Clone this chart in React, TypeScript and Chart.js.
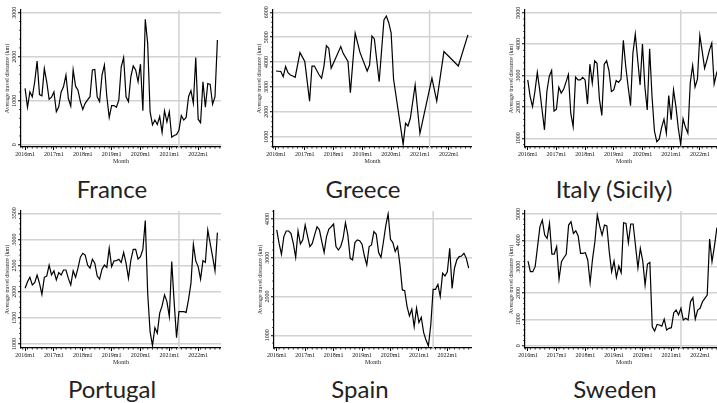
import React, { useEffect, useRef } from "react";
import { Chart, registerables } from "chart.js";

Chart.register(...registerables);

// ---------- data ----------
const monthTickValues = [0, 12, 24, 36, 48, 60, 72];
const monthTickLabels = ["2016m1", "2017m1", "2018m1", "2019m1", "2020m1", "2021m1", "2022m1"];

const franceValues = [
  1280, 850, 1200, 1090, 1430, 1900, 1140, 1110, 1730, 1430,
  1030, 1080, 1200, 750, 860, 1200, 1320, 1580, 1050, 880,
  1700, 1330, 1240, 980, 800, 940, 1020, 1090, 1700, 1710,
  1090, 980, 1580, 1810, 1090, 620, 890, 890, 850, 1020,
  1770, 1980, 1090, 980, 1550, 1790, 1700, 1430, 1830, 770,
  2850, 2300, 750, 450, 560, 460, 640, 280, 770, 520,
  750, 170, 210, 230, 330, 660, 560, 620, 1090, 1230,
  940, 1980, 580, 500, 1430, 850, 1390, 1370, 920, 1090,
  2380,
];

const greeceMonths = [
  0, 2, 3, 4, 5, 6, 7, 8, 10, 12, 14, 15, 16, 18, 19, 20, 21, 22, 23,
  27, 28, 30, 31, 33, 35, 38, 39, 40, 41, 43, 45, 46, 47, 48, 49,
  53, 54, 55, 56, 58, 60, 65, 67, 70, 76, 80,
];
const greeceValues = [
  3640, 3620, 3410, 3820, 3570, 3480, 3440, 3390, 4380, 4020, 2430, 3840, 3840, 3480, 3350, 3840, 4660, 4550, 3750,
  4620, 4350, 4020, 2770, 5160, 4390, 3640, 3880, 5050, 4930, 3210, 5690, 5850, 5580, 5160, 3320,
  690, 1540, 1430, 1740, 3080, 1130, 3350, 2430, 4420, 3840, 5090,
];

const italyValues = [
  2860, 2330, 2010, 2490, 3100, 2540, 1900, 1270, 2490, 2970,
  3160, 1870, 1930, 2630, 2440, 2560, 2790, 3030, 1800, 1370,
  2950, 2860, 2860, 2940, 2860, 2090, 3360, 2760, 3470, 3390,
  2240, 1730, 3360, 3470, 3150, 2490, 2540, 2840, 2780, 2880,
  4120, 3290, 2650, 2040, 3710, 4320, 3500, 2700, 4000, 2650,
  1900, 3850, 2330, 1240, 890, 970, 1340, 1610, 1160, 2360,
  1590, 2540, 2010, 1320, 810, 1620, 1350, 1160, 2760, 3320,
  2630, 2880, 4280, 3770, 3230, 3500, 3800, 4030, 2730, 3070,
  3300,
];

const portugalValues = [
  2065, 2190, 2275, 2130, 2175, 2320, 2160, 1950, 2275, 2300,
  2510, 2320, 2400, 2225, 2365, 2320, 2415, 2415, 2255, 2130,
  2400, 2275, 2450, 2660, 2735, 2700, 2510, 2450, 2620, 2545,
  2300, 2240, 2430, 2510, 2465, 2830, 2480, 2590, 2595, 2620,
  2560, 2750, 2545, 2255, 2605, 2810, 2810, 2625, 2670, 2810,
  3360, 1970, 1235, 970, 1310, 1205, 1590, 1730, 1940, 1810,
  1525, 2575, 1810, 1120, 1620, 1620, 1620, 1605, 1855, 2160,
  2905, 2590, 2480, 2240, 2595, 2560, 3180, 2925, 2670, 2400,
  3130,
];

const spainValues = [
  3720, 3370, 3090, 3545, 3690, 3690, 3630, 3370, 3010, 3690,
  3355, 3460, 3845, 3560, 3290, 3370, 3590, 3800, 3720, 3420,
  3140, 3545, 3740, 3800, 3870, 3290, 3200, 3290, 3500, 3905,
  3590, 2985, 2945, 3390, 3460, 3440, 3350, 3045, 2815, 3290,
  3330, 3675, 3605, 3135, 3010, 3400, 3820, 4130, 3475, 3390,
  3160, 3290, 2815, 2170, 2150, 1740, 1500, 1670, 1220, 1700,
  1330, 1465, 1070, 880, 725, 1265, 2185, 2185, 2315, 2000,
  2600, 2530, 2640, 3245, 2210, 2730, 2945, 3030, 3045, 3115,
  2985, 2730,
];

const swedenValues = [
  3215, 2810, 2810, 3000, 3760, 4520, 4770, 4200, 4075, 4645,
  3480, 3480, 3760, 2530, 3190, 3340, 3470, 4580, 4710, 4265,
  4365, 4165, 3505, 3505, 3530, 3255, 2390, 3280, 3950, 4960,
  4545, 4200, 4580, 4545, 3570, 2810, 3215, 2595, 3025, 2770,
  4670, 4645, 3910, 4620, 4620, 3785, 2960, 3695, 3230, 2305,
  3100, 3165, 720, 555, 810, 785, 745, 1010, 595, 660,
  685, 1255, 1355, 1165, 1420, 975, 1040, 975, 1670, 1825,
  1010, 1355, 1420, 1670, 1800, 1925, 4050, 3190, 3760, 4455,
  4600,
];

const franceYTicks = [0, 1000, 2000, 3000];
const greeceYTicks = [1000, 2000, 3000, 4000, 5000, 6000];
const italyYTicks = [1000, 2000, 3000, 4000, 5000];
const portugalYTicks = [1000, 1500, 2000, 2500, 3000, 3500];
const spainYTicks = [1000, 2000, 3000, 4000];
const swedenYTicks = [0, 1000, 2000, 3000, 4000, 5000];

// vertical reference line month per country (France, Greece, Italy, Portugal, Spain, Sweden)
const referenceMonths = [64, 64, 64, 64, 66, 64];
const yAxisTitle = "Average travel distance (km)";
const xAxisTitle = "Month";

const toPoints = (values: number[], months?: number[]) =>
  values.map((v, i) => ({ x: months ? months[i] : i, y: v }));

// ---------- layout ----------
type PanelCfg = {
  name: string;
  points: { x: number; y: number }[];
  yTicks: number[];
  refMonth: number;
  yMin: number;
  yMax: number;
  xMin: number;
  xMax: number;
  left: number;
  top: number;
  width: number;
  titleCenter: number;
  titleTop: number;
};

const CANVAS_H = 165;
const Y_AXIS_W = 17;
const X_AXIS_H = 18;

const panels: PanelCfg[] = [
  { name: "France", points: toPoints(franceValues), yTicks: franceYTicks, refMonth: referenceMonths[0], yMin: -52, yMax: 3061, xMin: -1.7, xMax: 81.5, left: 4, top: 0, width: 217, titleCenter: 112, titleTop: 176.5 },
  { name: "Greece", points: toPoints(greeceValues, greeceMonths), yTicks: greeceYTicks, refMonth: referenceMonths[1], yMin: 586, yMax: 6092, xMin: -1.25, xMax: 81.7, left: 256, top: 0, width: 216, titleCenter: 363, titleTop: 176.5 },
  { name: "Italy (Sicily)", points: toPoints(italyValues), yTicks: italyYTicks, refMonth: referenceMonths[2], yMin: 723, yMax: 5086, xMin: -1.15, xMax: 81.7, left: 508, top: 0, width: 215, titleCenter: 614, titleTop: 176.5 },
  { name: "Portugal", points: toPoints(portugalValues), yTicks: portugalYTicks, refMonth: referenceMonths[3], yMin: 923, yMax: 3544, xMin: -1.7, xMax: 81.5, left: 4, top: 201, width: 217, titleCenter: 112, titleTop: 376.5 },
  { name: "Spain", points: toPoints(spainValues), yTicks: spainYTicks, refMonth: referenceMonths[4], yMin: 672, yMax: 4206, xMin: -1.15, xMax: 82.4, left: 257, top: 201, width: 215, titleCenter: 360, titleTop: 376.5 },
  { name: "Sweden", points: toPoints(swedenValues), yTicks: swedenYTicks, refMonth: referenceMonths[5], yMin: -87, yMax: 5114, xMin: -1.25, xMax: 81.6, left: 508, top: 201, width: 215, titleCenter: 615, titleTop: 376.5 },
];

const smallFont = { family: "'Liberation Serif', 'DejaVu Serif', serif", size: 6 };

const minorTicksPlugin = {
  id: "minorTicks",
  afterDraw(chart: any) {
    const { ctx } = chart;
    const xs = chart.scales.x;
    const ys = chart.scales.y;
    ctx.save();
    ctx.strokeStyle = "#000";
    ctx.lineWidth = 0.8;
    const yt = ys.ticks.map((t: any) => t.value);
    if (yt.length > 1) {
      const step = (yt[1] - yt[0]) / 5;
      for (let v = yt[0] - 5 * step; v <= yt[yt.length - 1] + 5 * step + 1e-6; v += step) {
        if (v < ys.min || v > ys.max) continue;
        if (yt.some((t: number) => Math.abs(t - v) < 1e-6)) continue;
        const p = ys.getPixelForValue(v);
        ctx.beginPath();
        ctx.moveTo(ys.right - 1.8, p);
        ctx.lineTo(ys.right, p);
        ctx.stroke();
      }
    }
    for (let m = Math.ceil(xs.min); m <= xs.max; m += 2) {
      if (m % 12 === 0) continue;
      const p = xs.getPixelForValue(m);
      ctx.beginPath();
      ctx.moveTo(p, xs.top);
      ctx.lineTo(p, xs.top + 1.6);
      ctx.stroke();
    }
    ctx.restore();
  },
};

function Panel({ cfg }: { cfg: PanelCfg }) {
  const ref = useRef<HTMLCanvasElement | null>(null);
  useEffect(() => {
    if (!ref.current) return;
    const chart = new Chart(ref.current, {
      type: "line",
      data: {
        datasets: [
          {
            data: cfg.points,
            borderColor: "#000",
            borderWidth: 1.2,
            pointRadius: 0,
            tension: 0,
            fill: false,
            order: 1,
          },
          {
            data: [
              { x: cfg.refMonth, y: cfg.yMin },
              { x: cfg.refMonth, y: cfg.yMax },
            ],
            borderColor: "#d2d2d2",
            borderWidth: 1.5,
            pointRadius: 0,
            fill: false,
            order: 2,
          },
        ],
      },
      options: {
        animation: false,
        responsive: false,
        maintainAspectRatio: false,
        layout: { padding: { top: 10, left: 0, right: 0, bottom: 0 } },
        plugins: {
          legend: { display: false },
          tooltip: { enabled: false },
          title: { display: false },
        },
        scales: {
          x: {
            type: "linear",
            min: cfg.xMin,
            max: cfg.xMax,
            afterBuildTicks: (s: any) => {
              s.ticks = monthTickValues.map((v) => ({ value: v }));
            },
            afterFit: (s: any) => {
              s.height = X_AXIS_H;
            },
            ticks: {
              autoSkip: false,
              maxRotation: 0,
              minRotation: 0,
              padding: 1,
              color: "#111",
              font: smallFont,
              callback: (v: any) => {
                const i = monthTickValues.indexOf(Number(v));
                return i >= 0 ? monthTickLabels[i] : "";
              },
            },
            grid: {
              drawOnChartArea: false,
              drawTicks: true,
              tickLength: 3,
              tickColor: "#000",
              tickWidth: 1,
            },
            border: { display: true, color: "#000", width: 1.2 },
            title: { display: true, text: xAxisTitle, color: "#222", font: smallFont, padding: 0 },
          },
          y: {
            type: "linear",
            min: cfg.yMin,
            max: cfg.yMax,
            afterBuildTicks: (s: any) => {
              s.ticks = cfg.yTicks.map((v) => ({ value: v }));
            },
            afterFit: (s: any) => {
              s.width = Y_AXIS_W;
            },
            ticks: {
              minRotation: 90,
              maxRotation: 90,
              crossAlign: "center",
              padding: -2.5,
              color: "#111",
              font: smallFont,
              callback: (v: any) => String(v),
            },
            grid: {
              color: "#d2d2d2",
              lineWidth: 1.5,
              drawTicks: true,
              tickLength: 3,
              tickColor: "#000",
              tickWidth: 1,
            },
            border: { display: true, color: "#000", width: 1.2 },
            title: { display: true, text: yAxisTitle, color: "#222", font: smallFont, padding: 0 },
          },
        },
      } as any,
      plugins: [minorTicksPlugin],
    });
    return () => chart.destroy();
  }, [cfg]);

  return (
    <>
      <canvas
        ref={ref}
        width={cfg.width}
        height={CANVAS_H}
        style={{ position: "absolute", left: cfg.left, top: cfg.top, width: cfg.width, height: CANVAS_H }}
      />
      <div
        style={{
          position: "absolute",
          left: cfg.titleCenter - 110,
          top: cfg.titleTop,
          width: 220,
          textAlign: "center",
          fontFamily: "Lato, 'Noto Sans', sans-serif",
          fontWeight: 400,
          fontSize: 24,
          lineHeight: "24px",
          color: "#222",
          whiteSpace: "nowrap",
        }}
      >
        {cfg.name}
      </div>
    </>
  );
}

export default function App() {
  return (
    <div
      style={{
        position: "fixed",
        left: 0,
        top: 0,
        width: 717,
        height: 403,
        overflow: "hidden",
        background: "#fff",
      }}
    >
      {panels.map((p) => (
        <Panel key={p.name} cfg={p} />
      ))}
    </div>
  );
}
